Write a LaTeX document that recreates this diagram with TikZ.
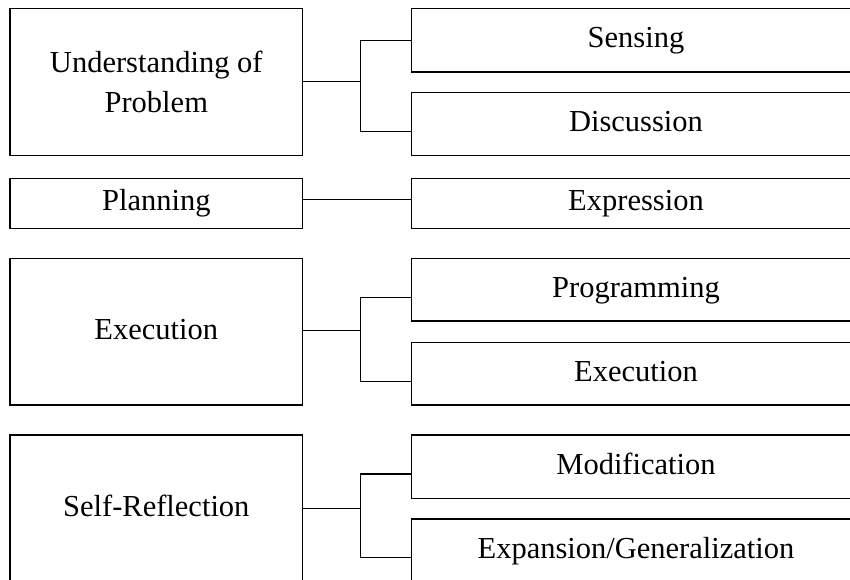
\documentclass[tikz,border=0pt]{standalone}
\usepackage{fontspec}
\setmainfont{Liberation Serif}
\begin{document}
\begin{tikzpicture}[x=1pt,y=-1pt,
  every node/.style={font=\fontsize{30.5}{40}\selectfont},
  stagebox/.style={draw, line width=1.2pt, rectangle, inner sep=0pt, outer sep=0pt,
    minimum width=292.7pt, align=center},
  subbox/.style={draw, line width=1.2pt, rectangle, inner sep=0pt, outer sep=0pt,
    minimum width=449.4pt, text height=20pt, text depth=5pt},
  oneline/.style={text height=20pt, text depth=5pt},
  link/.style={line width=1.2pt}]
\useasboundingbox (0,0) rectangle (850,579);
\clip (0,0) rectangle (850,579);

% left column: the four stages
\node[stagebox, minimum height=147pt] (und) at (156.3,81.8) {Understanding of\\Problem};
\node[stagebox, oneline, minimum height=50pt] (pla) at (156.3,203.3) {Planning};
\node[stagebox, oneline, minimum height=146.7pt] (exe) at (156.3,331.7) {Execution};
\node[stagebox, oneline, minimum height=147pt] (ref) at (156.3,508.5) {Self-Reflection};

% right column: activities of each stage
\node[subbox, minimum height=63.7pt] (sen) at (636,40.2) {Sensing};
\node[subbox, minimum height=63pt] (dis) at (636,123.8) {Discussion};
\node[subbox, minimum height=50pt] (exp) at (636,203.3) {Expression};
\node[subbox, minimum height=62.7pt] (prg) at (636,289.7) {Programming};
\node[subbox, minimum height=62.7pt] (run) at (636,373.7) {Execution};
\node[subbox, minimum height=63.3pt] (mod) at (636,466.7) {Modification};
\node[subbox, minimum height=63pt] (gen) at (636,550.5) {Expansion/Generalization};

% bracket junctions
\coordinate (j1) at (360.5,81.8);
\coordinate (j3) at (360.5,330.7);
\coordinate (j4) at (360.5,508.7);

% connectors
\draw[link] (und.east) -- (j1);
\draw[link] (sen.west) -| (j1) |- ([yshift=-7.5pt]dis.west);

\draw[link] ([yshift=4pt]pla.east) -- ([yshift=4pt]exp.west);

\draw[link] (exe.east |- j3) -- (j3);
\draw[link] ([yshift=-7.5pt]prg.west) -| (j3) |- ([yshift=-7.5pt]run.west);

\draw[link] (ref.east |- j4) -- (j4);
\draw[link] ([yshift=-7.3pt]mod.west) -| (j4) |- ([yshift=-7.2pt]gen.west);
\end{tikzpicture}
\end{document}
